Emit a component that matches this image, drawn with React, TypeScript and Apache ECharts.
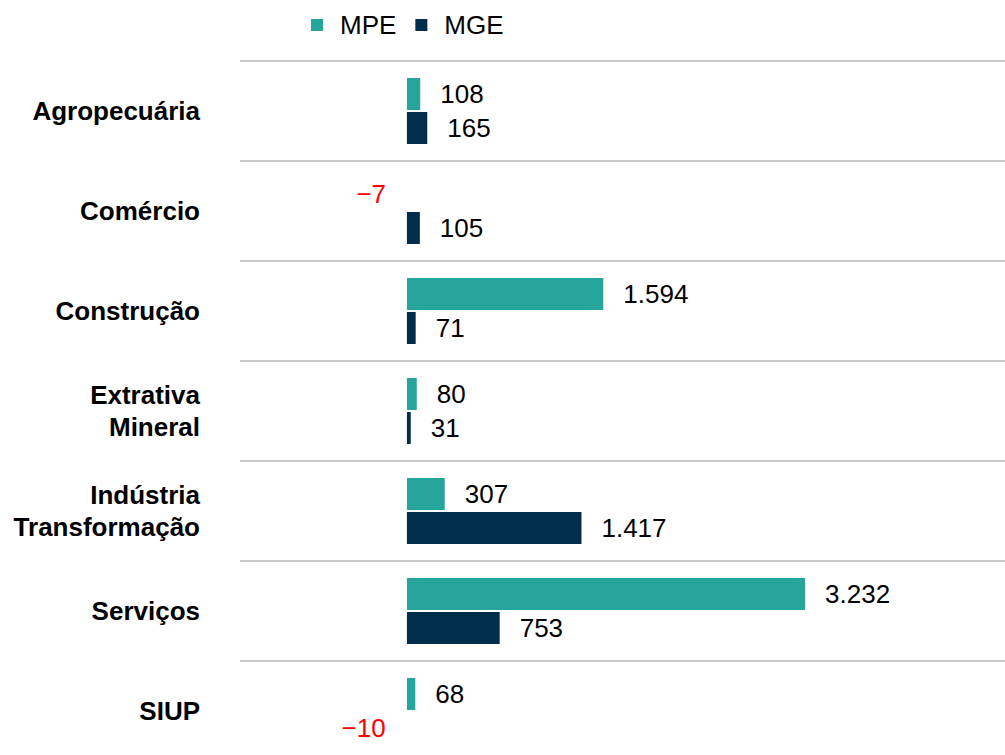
import React, { useEffect, useRef } from "react";
import * as echarts from "echarts";

const categories = [
  "Agropecuária",
  "Comércio",
  "Construção",
  "Extrativa\nMineral",
  "Indústria\nTransformação",
  "Serviços",
  "SIUP",
];
const seriesNames = ["MPE", "MGE"];
const mpeValues = [108, -7, 1594, 80, 307, 3232, 68];
const mgeValues = [165, 105, 71, 31, 1417, 753, -10];

const FONT = "'Liberation Sans', Arial, Helvetica, sans-serif";

function fmt(v: number): string {
  const s = Math.abs(v)
    .toString()
    .replace(/\B(?=(\d{3})+(?!\d))/g, ".");
  return v < 0 ? "\u2212" + s : s;
}

function buildData(values: number[]) {
  return values.map((v) => ({
    value: v,
    itemStyle: v < 0 ? { color: "rgba(0,0,0,0)" } : undefined,
    label: {
      position: v < 0 ? "left" : "right",
      color: v < 0 ? "#ff0000" : "#000000",
    },
  }));
}

export default function App() {
  const ref = useRef<HTMLDivElement>(null);
  useEffect(() => {
    if (!ref.current) return;
    const chart = echarts.init(ref.current, null, { renderer: "svg" });
    const label = {
      show: true,
      distance: 20,
      fontSize: 26,
      fontFamily: FONT,
      formatter: (p: any) => fmt(p.value),
    };
    chart.setOption({
      animation: false,
      textStyle: { fontFamily: FONT },
      legend: {
        data: seriesNames,
        left: 306,
        top: 6,
        icon: "rect",
        itemWidth: 12,
        itemHeight: 12,
        itemGap: 19,
        textStyle: {
          fontSize: 26,
          color: "#000",
          fontFamily: FONT,
          padding: [0, 0, 0, 12],
          lineHeight: 28,
        },
      },
      grid: {
        left: 240,
        right: 0,
        top: 61,
        height: 700,
        containLabel: false,
        outerBoundsMode: "none",
      },
      xAxis: {
        type: "value",
        min: -1355,
        max: 4855,
        show: false,
        splitLine: { show: false },
      },
      yAxis: {
        type: "category",
        data: categories,
        inverse: true,
        axisLine: { show: false },
        axisTick: { show: false },
        splitLine: { show: true, lineStyle: { color: "#c8c8c8", width: 2 } },
        axisLabel: {
          margin: 40,
          fontSize: 26,
          fontWeight: "bold",
          color: "#000",
          fontFamily: FONT,
          lineHeight: 32,
          align: "right",
        },
      },
      series: [
        {
          name: seriesNames[0],
          type: "bar",
          data: buildData(mpeValues),
          barWidth: 32,
          barGap: "6.25%",
          itemStyle: { color: "#26a69a" },
          label,
        },
        {
          name: seriesNames[1],
          type: "bar",
          data: buildData(mgeValues),
          barWidth: 32,
          barGap: "6.25%",
          itemStyle: { color: "#002d4b" },
          label,
        },
      ],
    });
    return () => chart.dispose();
  }, []);
  return (
    <div
      ref={ref}
      style={{ position: "absolute", left: 0, top: 0, width: 1005, height: 755 }}
    />
  );
}
